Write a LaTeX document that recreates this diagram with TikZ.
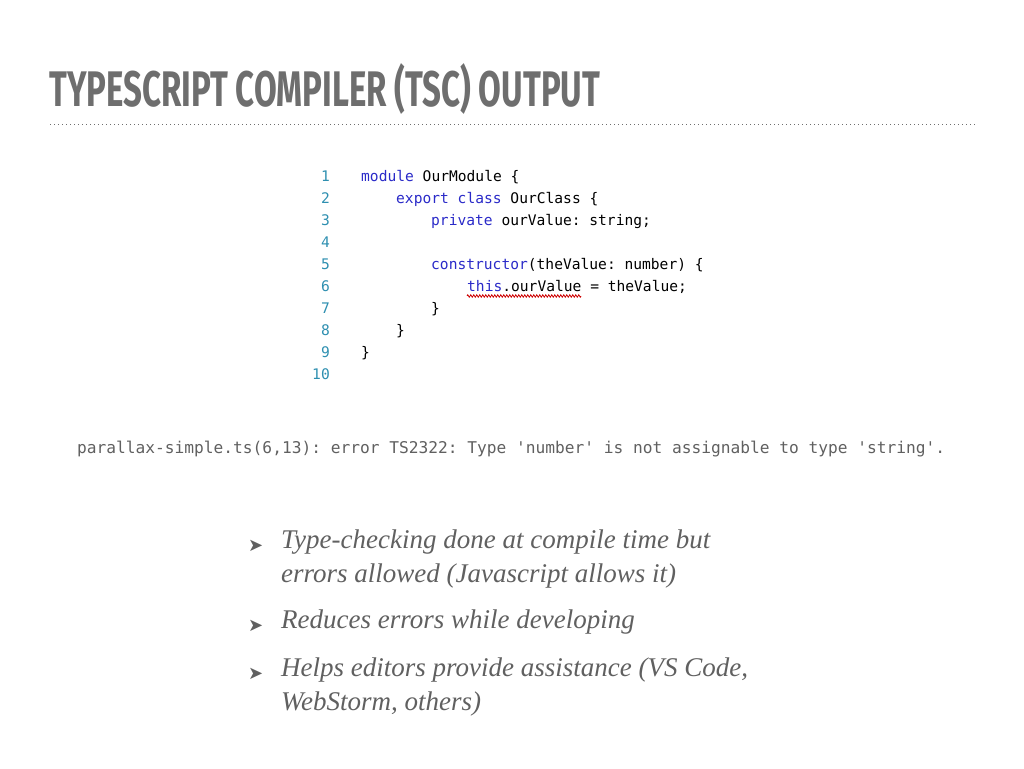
\documentclass[tikz,border=0pt]{standalone}
\usepackage{fontspec}
\setmainfont{Liberation Serif}
\setmonofont{DejaVu Sans Mono}
\newfontfamily\titlefont[FakeStretch=0.66]{Fira Sans}
\newfontfamily\symfont{DejaVu Sans}
\usetikzlibrary{positioning, decorations.pathmorphing}
\definecolor{titlegray}{HTML}{6E6E6E}
\definecolor{kwblue}{HTML}{2A2AC8}
\definecolor{numteal}{HTML}{2E8FB0}
\definecolor{bodygray}{HTML}{606060}

\begin{document}
\begin{tikzpicture}[x=1pt,y=-1pt]
        % Define styles
        \tikzset{code/.style={anchor=base west, inner sep=0pt, font=\fontsize{14.6}{16}\ttfamily, text=black}}
        \tikzset{lineno/.style={anchor=base east, inner sep=0pt, font=\fontsize{14.6}{16}\ttfamily, text=numteal}}
        \tikzset{bullet/.style={anchor=north west, inner sep=0pt, font=\fontsize{27}{34}\itshape, text=bodygray, align=left}}
        \tikzset{bulletmark/.style={anchor=base west, inner sep=0pt, font=\fontsize{18}{24}\symfont, text=bodygray}}

        \useasboundingbox (0,0) rectangle (1024,768);

        % Title
        \node (title) [anchor=base west, inner sep=0pt, font=\fontsize{50}{50}\titlefont\bfseries, text=titlegray] at (49,106) {TYPESCRIPT COMPILER (TSC) OUTPUT};
        \draw [titlegray, line width=1pt, dash pattern=on 1pt off 3pt] (50,124) -- (976,124);

        % Line numbers
        \foreach \n in {1,...,10}
            \node (num\n) [lineno] at (330,{181+22*(\n-1)}) {\n};

        % Code
        \node (c1) [code] at (361,181) {\textcolor{kwblue}{module} OurModule \{};
        \node (c2) [code] at (396,203) {\textcolor{kwblue}{export class} OurClass \{};
        \node (c3) [code] at (431,225) {\textcolor{kwblue}{private} ourValue: string;};
        \node (c5) [code] at (431,269) {\textcolor{kwblue}{constructor}(theValue: number) \{};
        \node (c6) [code] at (467,291) {\textcolor{kwblue}{this}.ourValue = theValue;};
        \node (c7) [code] at (431,313) {\}};
        \node (c8) [code] at (396,335) {\}};
        \node (c9) [code] at (361,357) {\}};
        \draw [red!80!black, line width=0.8pt, decorate, decoration={zigzag, amplitude=1.2pt, segment length=3pt}] (467,296) -- (581,296);

        % Error
        \node (err) [anchor=base west, inner sep=0pt, font=\fontsize{16.2}{18}\ttfamily, text=bodygray] at (77,453) {parallax-simple.ts(6,13): error TS2322: Type 'number' is not assignable to type 'string'.};

        % Bullets
        \node (m1) [bulletmark] at (248,551) {➤};
        \node (b1) [bullet] at (281,530) {Type-checking done at compile time but\\errors allowed (Javascript allows it)};
        \node (m2) [bulletmark] at (248,631) {➤};
        \node (b2) [bullet] at (281,610) {Reduces errors while developing};
        \node (m3) [bulletmark] at (248,679) {➤};
        \node (b3) [bullet] at (281,658) {Helps editors provide assistance (VS Code,\\WebStorm, others)};
    \end{tikzpicture}
\end{document}
